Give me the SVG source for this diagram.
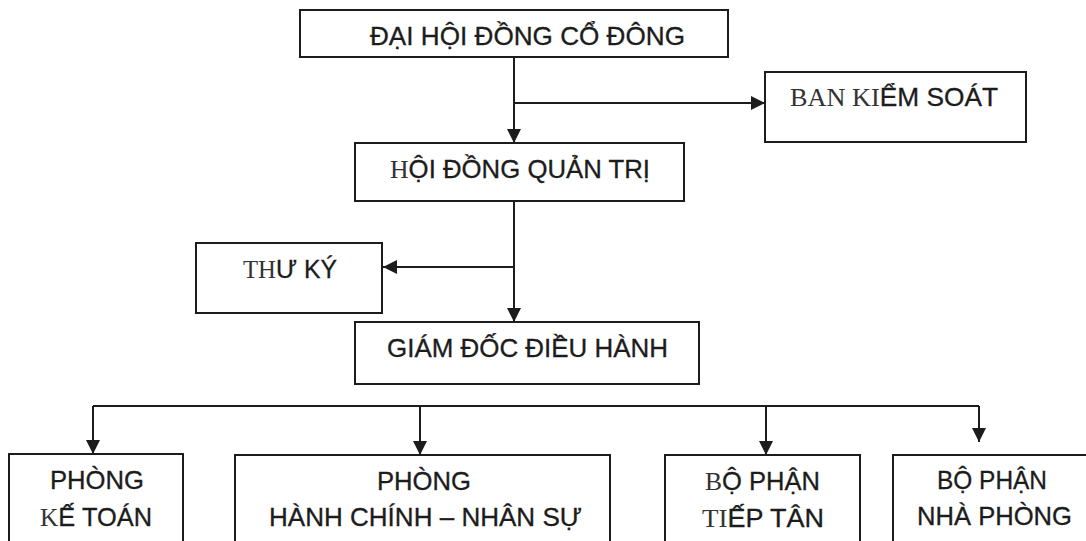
<svg xmlns="http://www.w3.org/2000/svg" width="1086" height="541" viewBox="0 0 1086 541">
<style>
.box{fill:none;stroke:#1c1c1c;stroke-width:2}
.ln{fill:none;stroke:#1c1c1c;stroke-width:2}
.t{font-family:"Liberation Sans",Arial,sans-serif;font-size:25px;fill:#1c1c1c;stroke:#1c1c1c;stroke-width:0.3}
.s{font-family:"Liberation Serif","Liberation Mono",serif;stroke-width:0;fill:#333}
</style>
<defs>
<marker id="ah" viewBox="0 0 14 14" refX="14" refY="7" markerWidth="14" markerHeight="14" markerUnits="userSpaceOnUse" orient="auto">
<path d="M0,0 L14,7 L0,14 z" fill="#1c1c1c"/>
</marker>
</defs>
<rect width="1086" height="541" fill="#ffffff"/>
<g id="connectors">
<path class="ln" d="M514,57 V143" marker-end="url(#ah)"/>
<path class="ln" d="M514,103 H765" marker-end="url(#ah)"/>
<path class="ln" d="M514,201 V322" marker-end="url(#ah)"/>
<path class="ln" d="M514,267 H383" marker-end="url(#ah)"/>
<path class="ln" d="M93,406 H979"/>
<path class="ln" d="M93,406 V454" marker-end="url(#ah)"/>
<path class="ln" d="M420,406 V455" marker-end="url(#ah)"/>
<path class="ln" d="M766,406 V455" marker-end="url(#ah)"/>
<path class="ln" d="M979,406 V442" marker-end="url(#ah)"/>
</g>
<g id="dai-hoi-dong-co-dong">
<rect class="box" x="300" y="10" width="428" height="47"/>
<text class="t" x="370" y="45" textLength="315" lengthAdjust="spacingAndGlyphs">ĐẠI HỘI ĐỒNG CỔ ĐÔNG</text>
</g>
<g id="ban-kiem-soat">
<rect class="box" x="765" y="72" width="261" height="70"/>
<text class="t" x="790" y="106" textLength="208" lengthAdjust="spacingAndGlyphs"><tspan class="s">BAN KI</tspan>ỂM SOÁT</text>
</g>
<g id="hoi-dong-quan-tri">
<rect class="box" x="355" y="143" width="329" height="58"/>
<text class="t" x="390" y="178" textLength="260" lengthAdjust="spacingAndGlyphs"><tspan class="s">H</tspan>ỘI ĐỒNG QUẢN TRỊ</text>
</g>
<g id="thu-ky">
<rect class="box" x="196" y="243" width="186" height="70"/>
<text class="t" x="243" y="278" textLength="94" lengthAdjust="spacingAndGlyphs"><tspan class="s">TH</tspan>Ư KÝ</text>
</g>
<g id="giam-doc-dieu-hanh">
<rect class="box" x="355" y="322" width="344" height="62"/>
<text class="t" x="387" y="357" textLength="281" lengthAdjust="spacingAndGlyphs">GIÁM ĐỐC ĐIỀU HÀNH</text>
</g>
<g id="phong-ke-toan">
<rect class="box" x="9" y="454" width="174" height="110"/>
<text class="t" x="50" y="489" textLength="94" lengthAdjust="spacingAndGlyphs">PHÒNG</text>
<text class="t" x="40" y="526" textLength="112" lengthAdjust="spacingAndGlyphs"><tspan class="s">K</tspan>Ế TOÁN</text>
</g>
<g id="phong-hanh-chinh-nhan-su">
<rect class="box" x="235" y="455" width="375" height="110"/>
<text class="t" x="377" y="490" textLength="94" lengthAdjust="spacingAndGlyphs">PHÒNG</text>
<text class="t" x="269" y="526" textLength="313" lengthAdjust="spacingAndGlyphs">HÀNH CHÍNH – NHÂN SỰ</text>
</g>
<g id="bo-phan-tiep-tan">
<rect class="box" x="665" y="455" width="195" height="110"/>
<text class="t" x="705" y="490" textLength="115" lengthAdjust="spacingAndGlyphs"><tspan class="s">B</tspan>Ộ PHẬN</text>
<text class="t" x="702" y="527" textLength="122" lengthAdjust="spacingAndGlyphs"><tspan class="s">TI</tspan>ẾP TÂN</text>
</g>
<g id="bo-phan-nha-phong">
<rect class="box" x="893" y="455" width="210" height="110"/>
<text class="t" x="937" y="489" textLength="110" lengthAdjust="spacingAndGlyphs">BỘ PHẬN</text>
<text class="t" x="917" y="525" textLength="155" lengthAdjust="spacingAndGlyphs">NHÀ PHÒNG</text>
</g>
</svg>
